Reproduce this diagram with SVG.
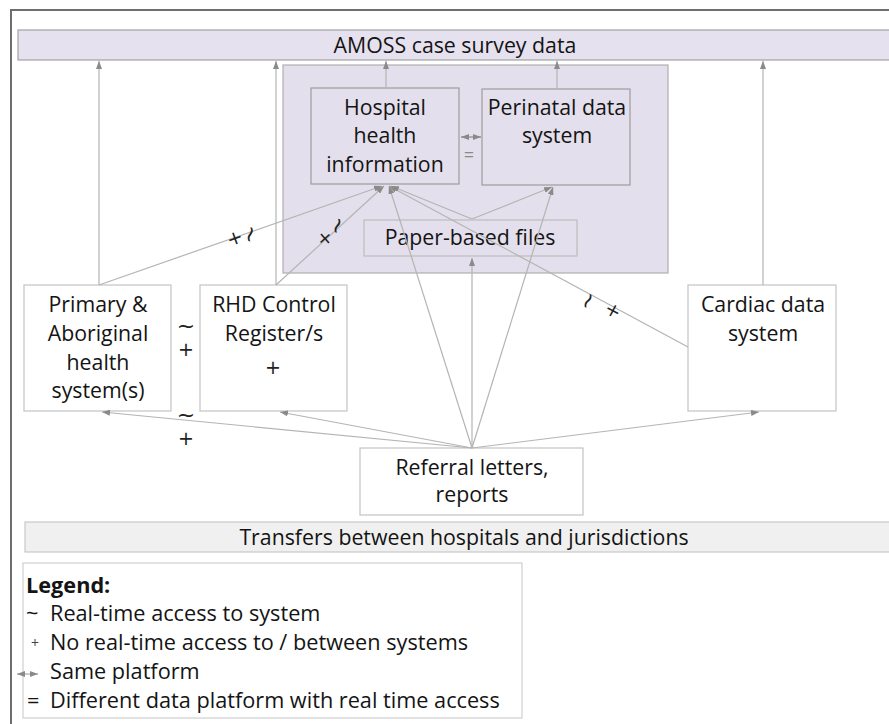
<svg xmlns="http://www.w3.org/2000/svg" width="889" height="724" viewBox="0 0 889 724">
<defs>
<marker id="ah" viewBox="0 0 8 6" refX="8" refY="3" markerWidth="8" markerHeight="6" markerUnits="userSpaceOnUse" orient="auto-start-reverse">
<path d="M0,0 L8,3 L0,6 z" fill="#8a8a8a"/>
</marker>
<style>
text{font-family:"Open Sans","Liberation Sans",sans-serif;fill:#141414;}
.lbl{font-size:21.3px;text-anchor:middle;}
.box{fill:#ffffff;stroke:#c4c4c4;stroke-width:1.2;}
.pbox{fill:#e4dfec;stroke:#9d9d9d;stroke-width:1.2;}
.con{stroke:#b4b4b4;stroke-width:1.2;fill:none;}
.arr{marker-end:url(#ah);}
.sym{font-family:"DejaVu Sans",sans-serif;font-size:19px;text-anchor:middle;fill:#222;}
.til{font-family:"DejaVu Sans",sans-serif;font-size:22px;text-anchor:middle;fill:#222;}
.leg{font-size:21.7px;}
</style>
</defs>
<rect x="11" y="10" width="900" height="730" fill="#ffffff" stroke="#6e6e6e" stroke-width="2"/>

<g id="amoss">
<rect x="18" y="30" width="890" height="30" fill="#e6e1ee" stroke="#a2a2a2" stroke-width="1.2"/>
<text class="lbl" x="455" y="53">AMOSS case survey data</text>
</g>

<g id="hospital-group">
<rect x="283" y="65" width="385" height="208" fill="#e4dfec" stroke="#b0b0b0" stroke-width="1.2"/>
</g>

<g id="hospital">
<rect class="pbox" x="311" y="88" width="148" height="96"/>
<text class="lbl" x="385" y="115">Hospital</text>
<text class="lbl" x="385" y="143">health</text>
<text class="lbl" x="385" y="172">information</text>
</g>

<g id="perinatal">
<rect class="pbox" x="482" y="89" width="148" height="96"/>
<text class="lbl" x="557" y="115">Perinatal data</text>
<text class="lbl" x="557" y="143">system</text>
</g>

<g id="paper">
<rect x="364" y="220" width="213" height="36" fill="#e4dfec" stroke="#bdbdbd" stroke-width="1.2"/>
<text class="lbl" x="470" y="245">Paper-based files</text>
</g>

<g id="primary">
<rect class="box" x="24" y="285" width="147" height="126"/>
<text class="lbl" x="98" y="312">Primary &amp;</text>
<text class="lbl" x="98" y="341">Aboriginal</text>
<text class="lbl" x="98" y="370">health</text>
<text class="lbl" x="98" y="398">system(s)</text>
</g>

<g id="rhd">
<rect class="box" x="200" y="285" width="147" height="126"/>
<text class="lbl" x="274" y="312">RHD Control</text>
<text class="lbl" x="274" y="341">Register/s</text>
</g>

<g id="cardiac">
<rect class="box" x="688" y="285" width="148" height="126"/>
<text class="lbl" x="763" y="312">Cardiac data</text>
<text class="lbl" x="763" y="341">system</text>
</g>

<g id="referral">
<rect class="box" x="360" y="448" width="223" height="67"/>
<text class="lbl" x="472" y="475">Referral letters,</text>
<text class="lbl" x="472" y="502">reports</text>
</g>

<g id="transfers">
<rect x="25" y="522" width="880" height="30" fill="#f0f0f0" stroke="#c8c8c8" stroke-width="1.2"/>
<text class="lbl" x="464" y="545">Transfers between hospitals and jurisdictions</text>
</g>

<g id="connectors">
<line class="con arr" x1="99" y1="285" x2="99" y2="61"/>
<line class="con arr" x1="276" y1="285" x2="276" y2="61"/>
<line class="con arr" x1="386" y1="88" x2="386" y2="61"/>
<line class="con arr" x1="557" y1="89" x2="557" y2="61"/>
<line class="con arr" x1="763" y1="285" x2="763" y2="61"/>
<line class="con arr" x1="99" y1="285" x2="382" y2="186"/>
<line class="con arr" x1="276" y1="285" x2="384" y2="186"/>
<line class="con arr" x1="688" y1="347" x2="389" y2="186"/>
<line class="con arr" x1="472" y1="448" x2="389" y2="186"/>
<line class="con arr" x1="472" y1="448" x2="553" y2="187"/>
<line class="con arr" x1="472" y1="448" x2="472" y2="258"/>
<line class="con arr" x1="472" y1="219" x2="391" y2="186"/>
<line class="con arr" x1="472" y1="219" x2="552" y2="187"/>
<line class="con arr" x1="472" y1="448" x2="102" y2="412"/>
<line class="con arr" x1="472" y1="448" x2="280" y2="412"/>
<line class="con arr" x1="472" y1="448" x2="759" y2="412"/>
<line x1="461" y1="137" x2="481" y2="137" stroke="#9a9a9a" stroke-width="1.5" marker-start="url(#ah)" marker-end="url(#ah)"/>
<text x="469" y="161" style="font-size:18px;fill:#8a8a8a;text-anchor:middle;">=</text>
</g>

<g id="access-marks">
<text class="sym" transform="translate(237,244) rotate(-20)">+</text>
<text class="til" transform="translate(257,236) rotate(-75)">~</text>
<text class="sym" transform="translate(329,243) rotate(-42)">+</text>
<text class="til" transform="translate(344,228) rotate(-70)">~</text>
<text class="til" transform="translate(594,304) rotate(-62)">~</text>
<text class="sym" transform="translate(610,316) rotate(28)">+</text>
<text class="til" x="186" y="333">~</text>
<text class="sym" x="186" y="356">+</text>
<text class="til" x="186" y="422">~</text>
<text class="sym" x="186" y="445">+</text>
<text class="sym" x="273" y="374">+</text>
</g>

<g id="legend">
<rect x="23" y="563" width="499" height="155" fill="#ffffff" stroke="#cfcfcf" stroke-width="1.2"/>
<text class="leg" x="26" y="593" style="font-weight:bold;">Legend:</text>
<text class="leg" x="26" y="621">~</text>
<text class="leg" x="50" y="621">Real-time access to system</text>
<text x="31" y="648" style="font-size:14px;fill:#444;">+</text>
<text class="leg" x="50" y="650">No real-time access to / between systems</text>
<line x1="17" y1="674" x2="38" y2="674" stroke="#aaaaaa" stroke-width="1.2" marker-start="url(#ah)" marker-end="url(#ah)"/>
<text class="leg" x="50" y="679">Same platform</text>
<text class="leg" x="27" y="708">=</text>
<text class="leg" x="50" y="708">Different data platform with real time access</text>
</g>
</svg>
